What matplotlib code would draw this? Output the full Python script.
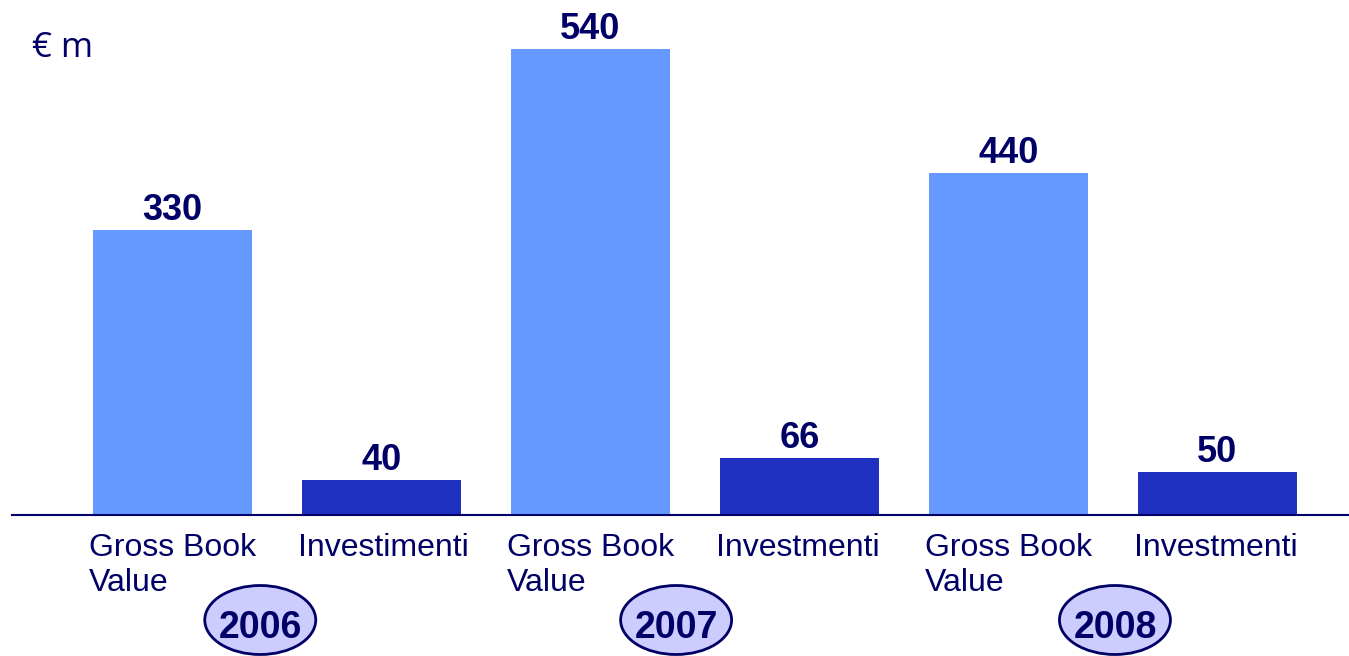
# Bar chart: Gross Book Value vs Investimenti by year (€ m)

import matplotlib.pyplot as plt
from matplotlib.patches import Ellipse
import matplotlib.transforms as mtransforms

# data
categories = ['Gross Book\nValue', 'Investimenti',
              'Gross Book\nValue', 'Investmenti',
              'Gross Book\nValue', 'Investmenti']
values = [330, 40, 540, 66, 440, 50]          # printed labels
bar_heights = [330, 40, 540, 66, 396, 50]     # heights as drawn in the original
years = ['2006', '2007', '2008']

# styling
light_blue = '#6699FF'
dark_blue = '#1F2FBF'
navy = '#000066'
bar_colors = [light_blue, dark_blue] * 3
year_x = [0.42, 2.41, 4.51]   # ellipse centres, in bar units

plt.rcParams['font.family'] = ['Liberation Sans', 'DejaVu Sans']

fig = plt.figure(figsize=(13.49, 6.56), dpi=100)
ax = fig.add_axes([12 / 1349, 141 / 656, 1 - 12 / 1349, 509 / 656])

x = list(range(len(values)))
width = 0.76
ax.bar(x, bar_heights, width=width, color=bar_colors)

ax.set_xlim(-0.768, 5.63)
ax.set_ylim(0, 590)

# only the bottom axis line
for side in ['top', 'right', 'left']:
    ax.spines[side].set_visible(False)
ax.spines['bottom'].set_color(navy)
ax.spines['bottom'].set_linewidth(1.5)
ax.set_xticks([])
ax.set_yticks([])

# value labels above bars
for xi, h, v in zip(x, bar_heights, values):
    ax.annotate(str(v), xy=(xi, h), xytext=(0, 1.5), textcoords='offset points',
                ha='center', va='bottom', fontsize=26, fontweight='bold', color=navy)

# category labels under bars, left aligned
for xi, cat in zip(x, categories):
    ax.annotate(cat, xy=(xi - width / 2, 0), xytext=(-3, -13), textcoords='offset points',
                ha='left', va='top', fontsize=23, color=navy, linespacing=1.2,
                annotation_clip=False)

# year badges
trans = mtransforms.blended_transform_factory(ax.transData, fig.transFigure)
for yx, yr in zip(year_x, years):
    ell = Ellipse((yx, 1 - 620 / 656), 111 / 209, 69 / 656, transform=trans,
                  facecolor='#CCCCFF', edgecolor=navy, linewidth=2, clip_on=False)
    fig.patches.append(ell)
    fig.text(yx, 1 - 628 / 656, yr, transform=trans, fontsize=27, fontweight='bold',
             color=navy, ha='center', va='center')

fig.text(32 / 1349, 1 - 48 / 656, '€ m', fontsize=25, color=navy,
         ha='left', va='center', family=['Open Sans', 'DejaVu Sans'])

fig.savefig('out.png', dpi=100)
